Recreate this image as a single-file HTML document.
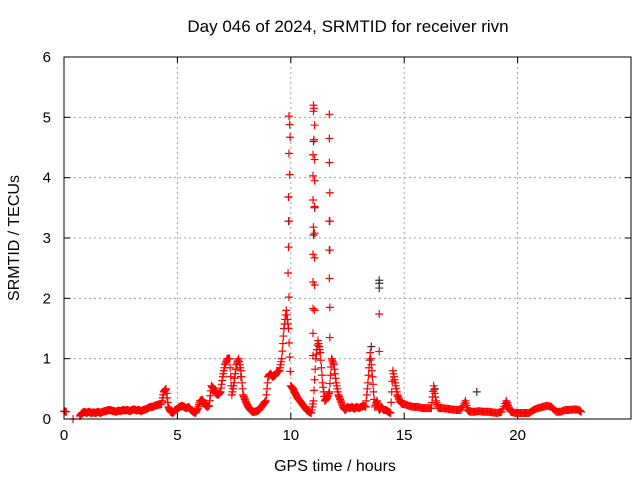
<!DOCTYPE html>
<html><head><meta charset="utf-8"><style>
body{margin:0;background:#fff;}
svg{display:block;font-family:"Liberation Sans",sans-serif;}
</style></head><body>
<svg id="chart" width="640" height="480">
<rect width="640" height="480" fill="#fff"/>
<text x="348" y="32" font-size="17" text-anchor="middle">Day 046 of 2024, SRMTID for receiver rivn</text>
<text x="335" y="471" font-size="16" text-anchor="middle">GPS time / hours</text>
<text transform="translate(19,238) rotate(-90)" font-size="16" text-anchor="middle">SRMTID / TECUs</text>
<g id="grid"></g>
<g id="ticks"></g>
<g id="marks"></g>
<rect x="64" y="57" width="567" height="362" fill="none" stroke="#000" stroke-width="1"/>
</svg>
<script>
const xTicks=[0,5,10,15,20];
const yTicks=[0,1,2,3,4,5,6];
const baseTimes=[0,0.1,0.4,0.7,0.8,0.9,1.0,1.1,1.2,1.3,1.4,1.5,1.6,1.7,1.8,1.9,2.0,2.1,2.2,2.3,2.4,2.5,2.6,2.7,2.8,2.9,3.0,3.1,3.2,3.3,3.4,3.5,3.6,3.7,3.8,3.9,4.0,4.1,4.2,4.3,4.4,4.5,4.6,4.7,4.8,4.9,5.0,5.1,5.2,5.3,5.4,5.5,5.6,5.7,5.8,5.9,6.0,6.1,6.2,6.3,6.4,6.5,6.6,6.7,6.8,6.9,7.0,7.1,7.2,7.3,7.4,7.5,7.6,7.7,7.8,7.9,8.0,8.1,8.2,8.3,8.4,8.5,8.6,8.7,8.8,8.9,9.0,9.1,9.2,9.3,9.4,9.5,9.6,9.7,9.8,9.9,10.0,10.1,10.2,10.3,10.4,10.5,10.6,10.7,10.8,10.9,11.0,11.1,11.2,11.3,11.4,11.5,11.6,11.7,11.8,11.9,12.0,12.1,12.2,12.3,12.4,12.5,12.6,12.7,12.8,12.9,13.0,13.1,13.2,13.3,13.4,13.5,13.6,13.7,13.8,13.9,14.0,14.1,14.2,14.3,14.4,14.5,14.6,14.7,14.8,14.9,15.0,15.2,15.4,15.6,15.8,16.0,16.2,16.3,16.4,16.5,16.7,16.9,17.1,17.3,17.5,17.7,17.8,17.9,18.1,18.3,18.5,18.7,18.9,19.1,19.3,19.5,19.6,19.7,19.9,20.1,20.3,20.5,20.7,20.9,21.1,21.3,21.5,21.7,21.9,22.1,22.3,22.5,22.7,22.8];
const baseValues=[0.13,0.12,0.0,0.05,0.1,0.12,0.1,0.12,0.1,0.11,0.1,0.12,0.1,0.12,0.13,0.14,0.15,0.14,0.13,0.12,0.14,0.13,0.15,0.14,0.15,0.13,0.15,0.16,0.14,0.15,0.13,0.15,0.16,0.18,0.2,0.2,0.22,0.23,0.24,0.25,0.45,0.5,0.2,0.12,0.1,0.15,0.17,0.2,0.22,0.2,0.18,0.2,0.15,0.12,0.1,0.18,0.3,0.32,0.25,0.2,0.22,0.55,0.5,0.42,0.4,0.45,0.7,0.9,1.0,1.0,0.4,0.6,0.9,1.0,0.8,0.4,0.3,0.22,0.16,0.12,0.12,0.13,0.15,0.2,0.25,0.3,0.7,0.75,0.7,0.72,0.78,0.8,1.0,1.5,1.8,1.5,0.55,0.5,0.42,0.35,0.3,0.25,0.2,0.15,0.12,0.1,0.3,1.0,1.3,1.1,0.6,0.3,0.35,0.45,1.0,0.9,0.6,0.4,0.3,0.2,0.15,0.2,0.18,0.2,0.17,0.2,0.18,0.2,0.22,0.2,0.6,1.1,0.7,0.2,0.3,0.15,0.2,0.15,0.15,0.12,0.1,0.8,0.6,0.4,0.3,0.25,0.25,0.22,0.2,0.2,0.18,0.18,0.18,0.55,0.3,0.18,0.18,0.17,0.16,0.15,0.15,0.3,0.15,0.12,0.12,0.13,0.12,0.12,0.11,0.1,0.12,0.3,0.2,0.12,0.1,0.1,0.1,0.1,0.15,0.18,0.2,0.22,0.2,0.12,0.12,0.15,0.15,0.16,0.15,0.12];
const spikeTimes=[9.92,9.95,9.97,9.92,9.95,9.9,9.92,9.9,9.88,9.92,11.0,11.02,11.0,11.05,11.02,10.98,11.05,10.98,11.05,10.98,11.05,11.0,11.05,10.98,11.05,10.98,11.05,10.98,11.05,10.98,10.98,11.7,11.7,11.7,11.72,11.72,11.72,11.7,11.72,11.72,13.9,13.9];
const spikeValues=[5.02,4.88,4.67,4.4,4.05,3.68,3.28,2.85,2.42,2.02,5.2,5.15,5.1,4.87,4.63,4.38,4.3,4.03,3.95,3.63,3.52,3.18,3.08,2.73,2.67,2.27,2.22,1.83,1.8,1.42,1.05,5.05,4.65,4.25,3.75,3.28,2.8,2.33,1.85,1.35,1.74,1.12];
const darkTimes=[9.9,9.9,9.9,11.0,11.05,11.0,11.7,11.7,13.9,13.9,13.9,13.55,16.35,18.2,7.8];
const darkValues=[3.68,3.28,2.85,4.6,3.5,3.05,3.28,2.8,2.3,2.25,2.17,1.2,0.5,0.45,0.7];
const X=t=>64+t*(567/25), Y=v=>419-v*(362/6);
const NS="http://www.w3.org/2000/svg";
const grid=document.getElementById('grid'),ticks=document.getElementById('ticks'),marks=document.getElementById('marks');
function mk(tag,attrs,parent){const e=document.createElementNS(NS,tag);for(const k in attrs)e.setAttribute(k,attrs[k]);parent.appendChild(e);return e;}
xTicks.forEach(t=>{
 if(t>0){const g=mk('line',{x1:X(t),x2:X(t),y1:57,y2:419,stroke:'#a0a0a0','stroke-dasharray':'2,3'},grid);
 
 }
 mk('line',{x1:X(t),x2:X(t),y1:419,y2:413,stroke:'#000'},ticks);
 mk('line',{x1:X(t),x2:X(t),y1:57,y2:63,stroke:'#000'},ticks);
 const tx=mk('text',{x:X(t),y:440,'font-size':15,'text-anchor':'middle'},ticks);tx.textContent=t;
 
 
});
yTicks.forEach(v=>{
 if(v>0&&v<6){const g=mk('line',{x1:64,x2:631,y1:Y(v),y2:Y(v),stroke:'#a0a0a0','stroke-dasharray':'2,3'},grid);
 
 }
 mk('line',{x1:64,x2:70,y1:Y(v),y2:Y(v),stroke:'#000'},ticks);
 mk('line',{x1:625,x2:631,y1:Y(v),y2:Y(v),stroke:'#000'},ticks);
 const tx=mk('text',{x:51,y:Y(v)+5,'font-size':15,'text-anchor':'end'},ticks);tx.textContent=v;
 
 
});
function plus(t,v,color,name){
 const x=X(t),y=Y(v);
 const p=mk('path',{d:`M${x-4},${y}H${x+4}M${x},${y-4}V${y+4}`,stroke:color,'stroke-width':1.2,fill:'none'},marks);
 
 
}
darkTimes.forEach((t,i)=>plus(t,darkValues[i],'#333','dark-point'));
baseTimes.forEach((t,i)=>{
 plus(t,baseValues[i],'#f00','srmtid-point');
 if(i+1<baseTimes.length&&baseTimes[i+1]-t<0.25){
  const n=4;
  for(let k=1;k<n;k++){const tt=t+(baseTimes[i+1]-t)*k/n,vv=baseValues[i]+(baseValues[i+1]-baseValues[i])*k/n;plus(tt,vv,'#f00','srmtid-point');}
 }
});
spikeTimes.forEach((t,i)=>plus(t,spikeValues[i],'#f00','spike-point'));
</script>
</body></html>
